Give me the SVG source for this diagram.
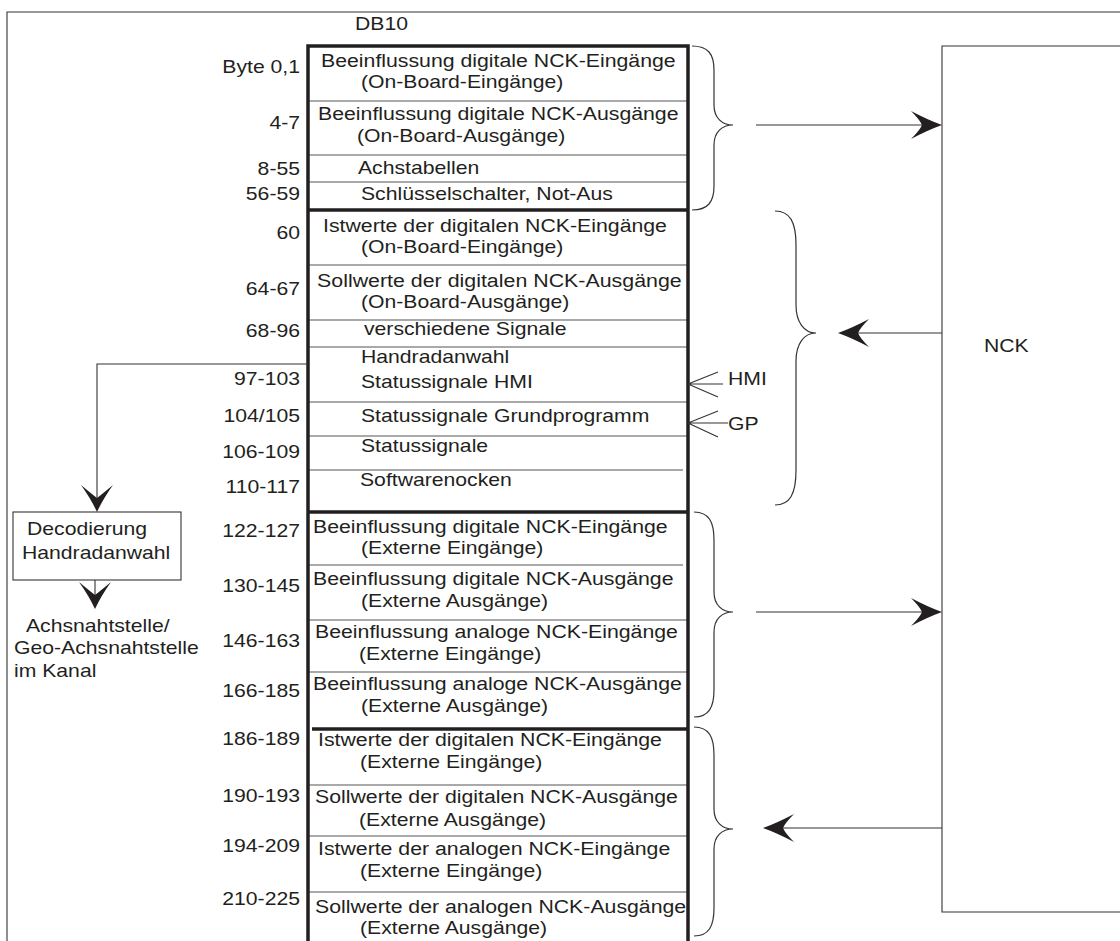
<svg xmlns="http://www.w3.org/2000/svg" width="1120" height="941" viewBox="0 0 1120 941">
<style>
.t{font-family:"Liberation Sans",Arial,Helvetica,sans-serif;font-size:19px;fill:#231f20}
.e{text-anchor:end}
.ln{stroke:#333;stroke-width:1.1;fill:none}
.sep{stroke:#555;stroke-width:1.2}
.thick{stroke:#231f20;stroke-width:3.5;fill:none}
.brace{fill:none;stroke:#333;stroke-width:1.2}
.ah{fill:#231f20;stroke:none}
</style>
<defs>
<path id="ahr" d="M0,0 Q-14,-5 -31,-14 Q-22,-5 -20,0 Q-22,5 -31,14 Q-14,5 0,0 Z"/>
<path id="ahd" d="M0,0 Q-6,-13 -16,-27 Q-4,-17 0,-14 Q4,-17 16,-27 Q6,-13 0,0 Z"/>
</defs>
<rect width="1120" height="941" fill="#fff"/>
<g id="frame">
<path class="ln" d="M7,941 V12 H1120"/>
</g>
<text class="t" transform="matrix(1.115 0 0 1 355 30)">DB10</text>
<g id="db10-table">
<g id="section-1">
<line class="sep" x1="308" y1="101" x2="688" y2="101"/>
<line class="sep" x1="308" y1="155" x2="688" y2="155"/>
<line class="sep" x1="308" y1="182" x2="688" y2="182"/>
<text class="t e" transform="matrix(1.115 0 0 1 300 73)">Byte 0,1</text>
<text class="t" transform="matrix(1.12 0 0 1 321 67)">Beeinflussung digitale NCK-Eingänge</text>
<text class="t" transform="matrix(1.115 0 0 1 361 88)">(On-Board-Eingänge)</text>
<text class="t e" transform="matrix(1.115 0 0 1 300 129)">4-7</text>
<text class="t" transform="matrix(1.12 0 0 1 318 120)">Beeinflussung digitale NCK-Ausgänge</text>
<text class="t" transform="matrix(1.115 0 0 1 357 142)">(On-Board-Ausgänge)</text>
<text class="t e" transform="matrix(1.115 0 0 1 300 175)">8-55</text>
<text class="t" transform="matrix(1.115 0 0 1 358 174)">Achstabellen</text>
<text class="t e" transform="matrix(1.115 0 0 1 300 200)">56-59</text>
<text class="t" transform="matrix(1.115 0 0 1 361 200)">Schlüsselschalter, Not-Aus</text>
</g>
<g id="section-2">
<line class="sep" x1="308" y1="265" x2="688" y2="265"/>
<line class="sep" x1="308" y1="320" x2="688" y2="320"/>
<line class="sep" x1="308" y1="347" x2="688" y2="347"/>
<line class="sep" x1="308" y1="402" x2="688" y2="402"/>
<line class="sep" x1="308" y1="436" x2="688" y2="436"/>
<line class="sep" x1="308" y1="470" x2="683" y2="470"/>
<text class="t e" transform="matrix(1.115 0 0 1 300 239)">60</text>
<text class="t" transform="matrix(1.12 0 0 1 323 232)">Istwerte der digitalen NCK-Eingänge</text>
<text class="t" transform="matrix(1.115 0 0 1 361 253)">(On-Board-Eingänge)</text>
<text class="t e" transform="matrix(1.115 0 0 1 300 295)">64-67</text>
<text class="t" transform="matrix(1.125 0 0 1 317 287)">Sollwerte der digitalen NCK-Ausgänge</text>
<text class="t" transform="matrix(1.115 0 0 1 361 308)">(On-Board-Ausgänge)</text>
<text class="t e" transform="matrix(1.115 0 0 1 300 337)">68-96</text>
<text class="t" transform="matrix(1.115 0 0 1 364 335)">verschiedene Signale</text>
<text class="t e" transform="matrix(1.115 0 0 1 300 385)">97-103</text>
<text class="t" transform="matrix(1.115 0 0 1 361 363)">Handradanwahl</text>
<text class="t" transform="matrix(1.115 0 0 1 361 388)">Statussignale HMI</text>
<text class="t e" transform="matrix(1.115 0 0 1 300 422)">104/105</text>
<text class="t" transform="matrix(1.115 0 0 1 361 422)">Statussignale Grundprogramm</text>
<text class="t e" transform="matrix(1.115 0 0 1 300 458)">106-109</text>
<text class="t" transform="matrix(1.115 0 0 1 361 452)">Statussignale</text>
<text class="t e" transform="matrix(1.115 0 0 1 300 493)">110-117</text>
<text class="t" transform="matrix(1.115 0 0 1 360 486)">Softwarenocken</text>
</g>
<g id="section-3">
<line class="sep" x1="308" y1="565" x2="683" y2="565"/>
<line class="sep" x1="308" y1="620" x2="688" y2="620"/>
<line class="sep" x1="308" y1="672" x2="688" y2="672"/>
<text class="t e" transform="matrix(1.115 0 0 1 300 537)">122-127</text>
<text class="t" transform="matrix(1.12 0 0 1 313 533)">Beeinflussung digitale NCK-Eingänge</text>
<text class="t" transform="matrix(1.115 0 0 1 361 554)">(Externe Eingänge)</text>
<text class="t e" transform="matrix(1.115 0 0 1 300 592)">130-145</text>
<text class="t" transform="matrix(1.12 0 0 1 313 585)">Beeinflussung digitale NCK-Ausgänge</text>
<text class="t" transform="matrix(1.115 0 0 1 361 607)">(Externe Ausgänge)</text>
<text class="t e" transform="matrix(1.115 0 0 1 300 647)">146-163</text>
<text class="t" transform="matrix(1.12 0 0 1 315 638)">Beeinflussung analoge NCK-Eingänge</text>
<text class="t" transform="matrix(1.115 0 0 1 359 660)">(Externe Eingänge)</text>
<text class="t e" transform="matrix(1.115 0 0 1 300 697)">166-185</text>
<text class="t" transform="matrix(1.12 0 0 1 313 690)">Beeinflussung analoge NCK-Ausgänge</text>
<text class="t" transform="matrix(1.115 0 0 1 361 712)">(Externe Ausgänge)</text>
</g>
<g id="section-4">
<line class="sep" x1="308" y1="785" x2="688" y2="785"/>
<line class="sep" x1="308" y1="836" x2="688" y2="836"/>
<line class="sep" x1="308" y1="892" x2="688" y2="892"/>
<text class="t e" transform="matrix(1.115 0 0 1 300 745)">186-189</text>
<text class="t" transform="matrix(1.12 0 0 1 318 746)">Istwerte der digitalen NCK-Eingänge</text>
<text class="t" transform="matrix(1.115 0 0 1 360 768)">(Externe Eingänge)</text>
<text class="t e" transform="matrix(1.115 0 0 1 300 802)">190-193</text>
<text class="t" transform="matrix(1.12 0 0 1 315 803)">Sollwerte der digitalen NCK-Ausgänge</text>
<text class="t" transform="matrix(1.115 0 0 1 359 826)">(Externe Ausgänge)</text>
<text class="t e" transform="matrix(1.115 0 0 1 300 852)">194-209</text>
<text class="t" transform="matrix(1.12 0 0 1 318 855)">Istwerte der analogen NCK-Eingänge</text>
<text class="t" transform="matrix(1.115 0 0 1 360 877)">(Externe Eingänge)</text>
<text class="t e" transform="matrix(1.115 0 0 1 300 905)">210-225</text>
<text class="t" transform="matrix(1.12 0 0 1 315 913)">Sollwerte der analogen NCK-Ausgänge</text>
<text class="t" transform="matrix(1.115 0 0 1 360 934)">(Externe Ausgänge)</text>
</g>
<g id="table-borders">
<path class="thick" d="M308,941 V46 H688 V941"/>
<line class="thick" x1="308" y1="210" x2="688" y2="210"/>
<line class="thick" x1="308" y1="512" x2="688" y2="512"/>
<line class="thick" x1="312" y1="729" x2="688" y2="729"/>
</g>
</g>
<g id="nck">
<path class="ln" d="M1120,46 H942 V912 H1120"/>
<text class="t" transform="matrix(1.115 0 0 1 984 352)">NCK</text>
</g>
<g id="decode">
<rect class="ln" x="13" y="512" width="168" height="68"/>
<text class="t" transform="matrix(1.115 0 0 1 27 535)">Decodierung</text>
<text class="t" transform="matrix(1.115 0 0 1 22 559)">Handradanwahl</text>
</g>
<g id="axis-interface">
<text class="t" transform="matrix(1.115 0 0 1 26 632)">Achsnahtstelle/</text>
<text class="t" transform="matrix(1.115 0 0 1 14 654)">Geo-Achsnahtstelle</text>
<text class="t" transform="matrix(1.115 0 0 1 14 677)">im Kanal</text>
</g>
<g id="hmi-gp">
<text class="t" transform="matrix(1.115 0 0 1 728 385)">HMI</text>
<text class="t" transform="matrix(1.115 0 0 1 728 430)">GP</text>
</g>
<g id="connectors">
<path class="brace" d="M692,46 C708,46 714,54 714,70 L714,105 C714,118 722,125 733,125 C722,125 714,132 714,145 L714,186 C714,202 708,210 692,210"/>
<path class="brace" d="M775,211 C790,211 796,222 796,245 L796,305 C796,322 804,333 816,333 C804,333 796,344 796,361 L796,470 C796,494 790,505 775,505"/>
<path class="brace" d="M694,512 C709,512 714,522 714,540 L714,592 C714,605 722,612 733,612 C722,612 714,619 714,632 L714,690 C714,707 709,717 694,717"/>
<path class="brace" d="M694,727 C709,727 714,737 714,755 L714,809 C714,822 722,829 733,829 C722,829 714,836 714,849 L714,908 C714,926 709,936 694,936"/>
<line class="ln" x1="756" y1="125" x2="925" y2="125"/>
<use href="#ahr" class="ah" transform="translate(942,125)"/>
<line class="ln" x1="942" y1="333" x2="855" y2="333"/>
<use href="#ahr" class="ah" transform="translate(838,333) rotate(180)"/>
<line class="ln" x1="756" y1="612" x2="925" y2="612"/>
<use href="#ahr" class="ah" transform="translate(942,612)"/>
<line class="ln" x1="942" y1="828" x2="780" y2="828"/>
<use href="#ahr" class="ah" transform="translate(763,828) rotate(180)"/>
<path class="ln" d="M718,372 L688,384 L718,397 M688,384 H723"/>
<path class="ln" d="M718,411 L688,423 L718,437 M688,423 H728"/>
<path class="ln" d="M308,364 H97 V500"/>
<use href="#ahd" class="ah" transform="translate(97,512)"/>
<path class="ln" d="M95,580 V598"/>
<use href="#ahd" class="ah" transform="translate(95,609)"/>
</g>
</svg>
